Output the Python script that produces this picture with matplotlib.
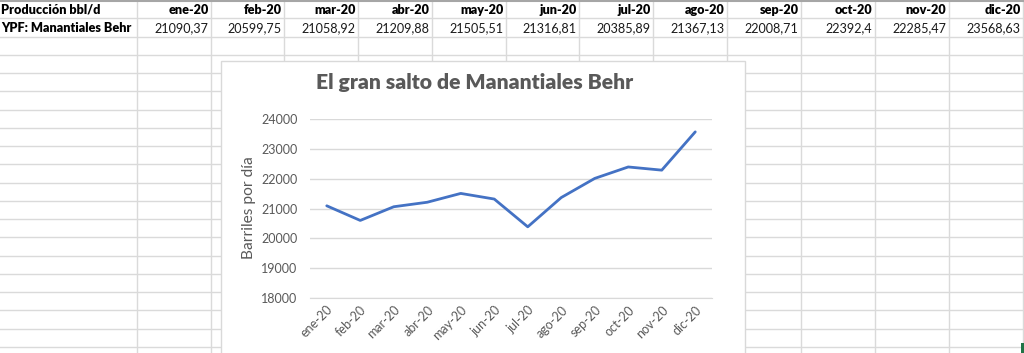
import matplotlib
matplotlib.use("Agg")
import matplotlib.pyplot as plt
from matplotlib.patches import Rectangle

plt.rcParams['font.family'] = ['Lato', 'DejaVu Sans']

months = ["ene-20", "feb-20", "mar-20", "abr-20", "may-20", "jun-20",
          "jul-20", "ago-20", "sep-20", "oct-20", "nov-20", "dic-20"]
production = [21090.37, 20599.75, 21058.92, 21209.88, 21505.51, 21316.81,
              20385.89, 21367.13, 22008.71, 22392.4, 22285.47, 23568.63]
row_header = "Producción bbl/d"
series_name = "YPF: Manantiales Behr"
chart_title = "El gran salto de Manantiales Behr"
y_label = "Barriles por día"
y_ticks = [18000, 19000, 20000, 21000, 22000, 23000, 24000]

W, H = 1024, 353
fig = plt.figure(figsize=(W / 100, H / 100), dpi=100)
fig.patch.set_facecolor("white")

# ---- spreadsheet background (pixel coordinates) ----
bg = fig.add_axes([0, 0, 1, 1])
bg.set_xlim(0, W)
bg.set_ylim(H, 0)
bg.axis("off")

col_edges = [0, 137, 211, 284, 358, 432, 506, 579, 653, 727, 801, 875, 949, 1023]
row_h = 18.25
grid_c = "#DADADA"
for x in col_edges[1:]:
    bg.plot([x, x], [0, H], color=grid_c, lw=1.0, zorder=1)
k = 1
while k * row_h < H:
    bg.plot([0, W], [k * row_h, k * row_h], color=grid_c, lw=1.0, zorder=1)
    k += 1
bg.plot([0, W], [0.6, 0.6], color="#A6A6A6", lw=1.5, zorder=2)

cell_fs = 9.1
bg.text(1, row_h * 0.5 + 0.5, row_header, fontsize=cell_fs, fontweight="heavy",
        ha="left", va="center", color="black", zorder=3)
bg.text(1, row_h * 1.5 + 0.5, series_name, fontsize=cell_fs, fontweight="heavy",
        ha="left", va="center", color="black", zorder=3)
for i, (m, v) in enumerate(zip(months, production)):
    xr = col_edges[i + 2] - 2.5
    bg.text(xr, row_h * 0.5 + 0.5, m, fontsize=cell_fs, fontweight="heavy",
            ha="right", va="center", color="black", zorder=3)
    bg.text(xr, row_h * 1.5 + 0.5, str(v).replace(".", ","), fontsize=cell_fs,
            ha="right", va="center", color="#1a1a1a", zorder=3)

# chart box
bg.add_patch(Rectangle((221, 60.5), 524, 320, facecolor="white",
                       edgecolor="#D9D9D9", lw=1.0, zorder=5))
bg.text(475, 82, chart_title, fontsize=15.2, fontweight="heavy",
        color="#595959", ha="center", va="center", zorder=6)
bg.text(249, 208, y_label, fontsize=11.2, color="#595959", rotation=90,
        ha="center", va="center", zorder=6)
bg.add_patch(Rectangle((1021, 343), 4, 12, facecolor="#217346",
                       edgecolor="none", zorder=6))

# ---- chart plot area ----
left, right, top, bottom = 310, 712, 119, 298
ax = fig.add_axes([left / W, 1 - bottom / H, (right - left) / W, (bottom - top) / H],
                  zorder=10)
ax.patch.set_alpha(0)
x = list(range(len(months)))
ax.plot(x, production, color="#4472C4", lw=2.0, solid_capstyle="round",
        solid_joinstyle="round", clip_on=False, zorder=3)
ax.set_xlim(-0.5, len(months) - 0.5)
ax.set_ylim(y_ticks[0], y_ticks[-1])
ax.set_yticks(y_ticks)
ax.set_yticklabels([str(t) for t in y_ticks])
ax.set_xticks(x)
ax.set_xticklabels(months, rotation=45, ha="right", va="top",
                   rotation_mode="anchor")
ax.grid(axis="y", color="#D9D9D9", lw=1.0)
ax.set_axisbelow(True)
for s in ["left", "right", "top"]:
    ax.spines[s].set_visible(False)
ax.spines["bottom"].set_color("#D9D9D9")
ax.tick_params(axis="both", length=0, colors="#595959", labelsize=9.0)
ax.tick_params(axis="y", pad=9)
ax.tick_params(axis="x", pad=4)

fig.savefig("out.png", dpi=100, facecolor="white")
